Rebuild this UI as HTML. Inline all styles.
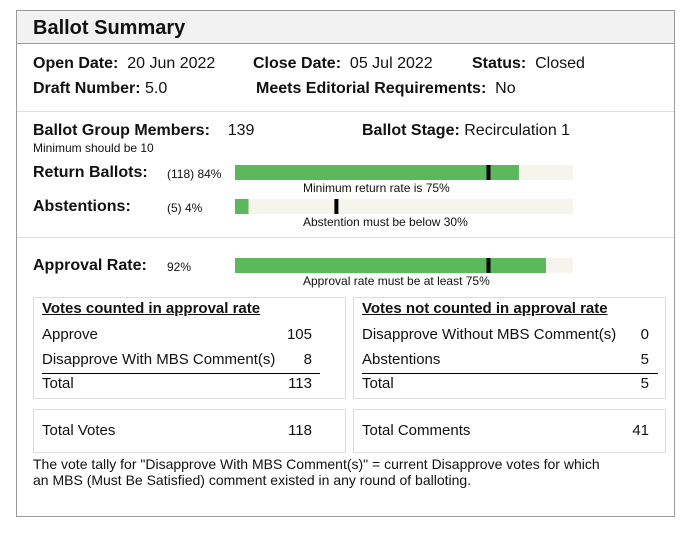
<!DOCTYPE html>
<html><head><meta charset="utf-8">
<style>
*{margin:0;padding:0;box-sizing:border-box}
body{width:690px;height:536px;background:#fff;font-family:"Liberation Sans",Arial,sans-serif;color:#111;position:relative;overflow:hidden}
.a{position:absolute;white-space:nowrap;line-height:20px}
.b{font-weight:bold}
.f16{font-size:16px}.f15{font-size:15px}.f12{font-size:12px}.f14{font-size:14px}
.box{position:absolute;border:1px solid #ddd}
.hr{position:absolute;height:1px;background:#000}
</style></head><body>
<div style="position:absolute;left:16px;top:10px;width:659px;height:507px;border:1px solid #999"></div>
<div style="position:absolute;left:17px;top:11px;width:657px;height:33px;background:#f2f2f2;border-bottom:1px solid #999"></div>
<div class="a b" style="left:33px;top:17px;font-size:20px;line-height:22px">Ballot Summary</div>

<div class="a f16" style="left:33px;top:54px"><b>Open Date:</b>&nbsp; 20 Jun 2022</div>
<div class="a f16" style="left:253px;top:54px"><b>Close Date:</b>&nbsp; 05 Jul 2022</div>
<div class="a f16" style="left:472px;top:54px"><b>Status:</b>&nbsp; Closed</div>
<div class="a f16" style="left:33px;top:79px"><b>Draft Number:</b> 5.0</div>
<div class="a f16" style="left:256px;top:79px"><b>Meets Editorial Requirements:</b>&nbsp; No</div>
<div style="position:absolute;left:17px;top:111px;width:657px;height:1px;background:#ddd"></div>

<div class="a f16" style="left:33px;top:121px"><b>Ballot Group Members:</b>&nbsp;&nbsp;&nbsp; 139</div>
<div class="a f16" style="left:362px;top:121px"><b>Ballot Stage:</b> Recirculation 1</div>
<div class="a f12" style="left:33px;top:138px">Minimum should be 10</div>

<div class="a f16 b" style="left:33px;top:163px">Return Ballots:</div>
<div class="a f12" style="left:167px;top:164px">(118) 84%</div>
<div class="a f12" style="left:303px;top:178px">Minimum return rate is 75%</div>
<div class="a f16 b" style="left:33px;top:197px">Abstentions:</div>
<div class="a f12" style="left:167px;top:198px">(5) 4%</div>
<div class="a f12" style="left:303px;top:212px">Abstention must be below 30%</div>
<div style="position:absolute;left:17px;top:237px;width:657px;height:1px;background:#ddd"></div>

<div class="a f16 b" style="left:33px;top:256px">Approval Rate:</div>
<div class="a f12" style="left:167px;top:257px">92%</div>
<div class="a f12" style="left:303px;top:271px">Approval rate must be at least 75%</div>

<svg id="bars" style="position:absolute;left:0;top:0" width="690" height="536"></svg>

<div class="box" style="left:33px;top:297px;width:313px;height:102px"></div>
<div class="a f15 b" style="left:42px;top:299px;text-decoration:underline">Votes counted in approval rate </div>
<div class="a f15" style="left:42px;top:325px">Approve</div>
<div class="a f15" style="left:262px;top:325px;width:50px;text-align:right">105</div>
<div class="a f15" style="left:42px;top:350px">Disapprove With MBS Comment(s)</div>
<div class="a f15" style="left:262px;top:350px;width:50px;text-align:right">8</div>
<div class="hr" style="left:42px;top:373px;width:278px"></div>
<div class="a f15" style="left:42px;top:374px">Total</div>
<div class="a f15" style="left:262px;top:374px;width:50px;text-align:right">113</div>

<div class="box" style="left:353px;top:297px;width:313px;height:102px"></div>
<div class="a f15 b" style="left:362px;top:299px;text-decoration:underline">Votes not counted in approval rate</div>
<div class="a f15" style="left:362px;top:325px">Disapprove Without MBS Comment(s)</div>
<div class="a f15" style="left:600px;top:325px;width:49px;text-align:right">0</div>
<div class="a f15" style="left:362px;top:350px">Abstentions</div>
<div class="a f15" style="left:600px;top:350px;width:49px;text-align:right">5</div>
<div class="hr" style="left:362px;top:373px;width:296px"></div>
<div class="a f15" style="left:362px;top:374px">Total</div>
<div class="a f15" style="left:600px;top:374px;width:49px;text-align:right">5</div>

<div class="box" style="left:33px;top:409px;width:313px;height:44px"></div>
<div class="a f15" style="left:42px;top:421px">Total Votes</div>
<div class="a f15" style="left:262px;top:421px;width:50px;text-align:right">118</div>
<div class="box" style="left:353px;top:409px;width:313px;height:44px"></div>
<div class="a f15" style="left:362px;top:421px">Total Comments</div>
<div class="a f15" style="left:600px;top:421px;width:49px;text-align:right">41</div>

<div class="a f14" style="left:33px;top:456px;line-height:16px">The vote tally for "Disapprove With MBS Comment(s)" = current Disapprove votes for which<br>an MBS (Must Be Satisfied) comment existed in any round of balloting.</div>

<script>
const barNames = ["return-ballots", "abstentions", "approval-rate"];
const barValues = [84, 4, 92];
const thresholds = [75, 30, 75];
const tops = [165, 199, 258];
const svg = document.getElementById('bars');
const NS = 'http://www.w3.org/2000/svg';
const x0 = 235, W = 338;
const xs = v => x0 + W * v / 100;
barNames.forEach((n, i) => {
  const t = document.createElementNS(NS, 'rect');
  
  
  t.setAttribute('x', x0); t.setAttribute('y', tops[i]); t.setAttribute('width', W); t.setAttribute('height', 15); t.setAttribute('fill', '#f5f5ee');
  svg.appendChild(t);
  const b = document.createElementNS(NS, 'rect');
  
  
  b.setAttribute('x', x0); b.setAttribute('y', tops[i]); b.setAttribute('width', xs(barValues[i]) - x0); b.setAttribute('height', 15); b.setAttribute('fill', '#5cb85c');
  svg.appendChild(b);
  const m = document.createElementNS(NS, 'rect');
  
  
  m.setAttribute('x', xs(thresholds[i]) - 2); m.setAttribute('y', tops[i]); m.setAttribute('width', 4); m.setAttribute('height', 15); m.setAttribute('fill', '#000');
  svg.appendChild(m);
});
</script>
</body></html>
